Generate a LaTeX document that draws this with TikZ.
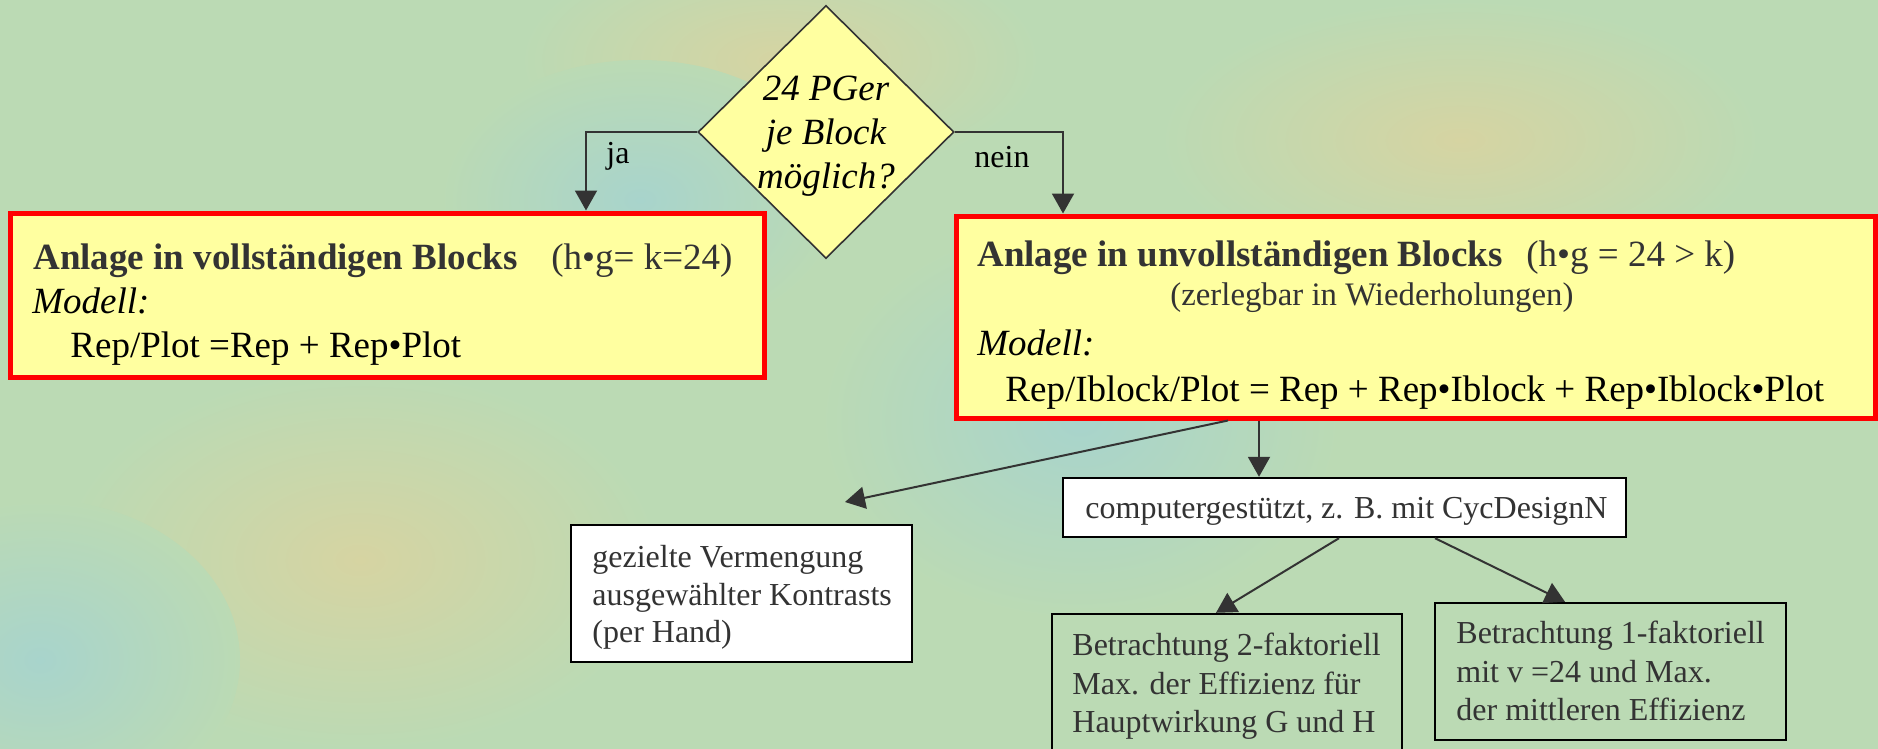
\documentclass[tikz,border=0pt]{standalone}
\usepackage{fontspec}
\setmainfont{Liberation Serif}
\usetikzlibrary{arrows.meta,shapes.geometric,calc}

\definecolor{bggreen}{RGB}{187,218,180}
\definecolor{bgtan}{RGB}{214,212,162}
\definecolor{bgblue}{RGB}{168,212,204}
\definecolor{boxyellow}{RGB}{255,255,160}
\definecolor{framered}{RGB}{255,0,0}
\definecolor{inkgray}{RGB}{51,51,51}

\begin{document}
\begin{tikzpicture}[x=0.5pt,y=-0.5pt,
  bigtxt/.style={font=\fontsize{18.5}{22}\selectfont, inner sep=0pt, text=black},
  smalltxt/.style={font=\fontsize{16}{19}\selectfont, inner sep=0pt, text=inkgray},
  yellowbox/.style={draw=framered, line width=2.5pt, fill=boxyellow, rectangle, inner sep=0pt},
  whitebox/.style={draw=black, line width=1.2pt, fill=white, rectangle, inner sep=0pt},
  plainbox/.style={draw=black, line width=1.2pt, rectangle, inner sep=0pt},
  decision/.style={draw=inkgray, line width=0.8pt, fill=boxyellow, diamond, inner sep=0pt},
  conn/.style={draw=inkgray, line width=1pt, -{Triangle[length=10pt,width=11pt]}}]

\useasboundingbox (0,0) rectangle (1878,749);
\clip (0,0) rectangle (1878,749);

% textured backdrop
\fill[bggreen] (0,0) rectangle (1878,749);
\shade[inner color=bgtan, outer color=bggreen] (360,560) ellipse [x radius=300, y radius=190];
\shade[inner color=bgtan, outer color=bggreen] (780,60) ellipse [x radius=260, y radius=120];
\shade[inner color=bgtan, outer color=bggreen] (1460,140) ellipse [x radius=300, y radius=140];
\shade[inner color=bgblue, outer color=bggreen] (1080,420) ellipse [x radius=260, y radius=200];
\shade[inner color=bgblue, outer color=bggreen] (40,660) ellipse [x radius=200, y radius=160];
\shade[inner color=bgblue, outer color=bggreen] (640,200) ellipse [x radius=200, y radius=140];

% decision
\node[decision, minimum width=128pt, minimum height=126.5pt] (dia) at (826,132) {};
\node[bigtxt, align=center, font=\fontsize{18.5}{22}\itshape] (qtext) at (826,136)
  {24 PGer\\je Block\\möglich?};

% main boxes
\node[yellowbox, minimum width=377pt, minimum height=82pt] (lb) at (387,295) {};
\node[yellowbox, minimum width=459.5pt, minimum height=101pt] (rb) at (1415.5,317) {};

\node[bigtxt, anchor=base west, text=inkgray, font=\fontsize{18.5}{22}\selectfont\bfseries] (lbt) at (33,269) {Anlage in vollständigen Blocks};
\node[bigtxt, anchor=base west, text=inkgray] (lbc) at (551,269) {(h•g= k=24)};
\node[bigtxt, anchor=base west, font=\fontsize{18.5}{22}\itshape] (lbm) at (32,313) {Modell:};
\node[bigtxt, anchor=base west] (lbf) at (70,357) {Rep/Plot =Rep + Rep•Plot};

\node[bigtxt, anchor=base west, text=inkgray, font=\fontsize{18.5}{22}\selectfont\bfseries] (rbt) at (977,266) {Anlage in unvollständigen Blocks};
\node[bigtxt, anchor=base west, text=inkgray] (rbc) at (1526,266) {(h•g = 24 > k)};
\node[bigtxt, anchor=base west, text=inkgray, font=\fontsize{16.4}{19}\selectfont] (rbz) at (1170,305) {(zerlegbar in Wiederholungen)};
\node[bigtxt, anchor=base west, font=\fontsize{18.5}{22}\itshape] (rbm) at (977,355) {Modell:};
\node[bigtxt, anchor=base west] (rbf) at (1005,401) {Rep/Iblock/Plot = Rep + Rep•Iblock + Rep•Iblock•Plot};

% lower boxes
\node[whitebox, minimum width=170.5pt, minimum height=68.5pt] (gez) at (741.5,593.5) {};
\node[whitebox, minimum width=281.5pt, minimum height=29.5pt] (cg) at (1344.5,507.5) {};
\node[plainbox, minimum width=175pt, minimum height=78pt] (bl) at (1227,692) {};
\node[plainbox, minimum width=175.5pt, minimum height=68.5pt] (br) at (1610.5,671.5) {};

\node[smalltxt, anchor=north west, align=left, font=\fontsize{16}{18.75}\selectfont] (gezt) at (592,545)
  {gezielte Vermengung\\ausgewählter Kontrasts\\(per Hand)};
\node[smalltxt, anchor=base west] (cgt) at (1085,518) {computergestützt, z. B. mit CycDesignN};
\node[smalltxt, anchor=north west, align=left, font=\fontsize{16}{19.25}\selectfont] (blt) at (1072,633)
  {Betrachtung 2-faktoriell\\Max. der Effizienz für\\Hauptwirkung G und H};
\node[smalltxt, anchor=north west, align=left, font=\fontsize{16}{19.25}\selectfont] (brt) at (1456,621)
  {Betrachtung 1-faktoriell\\mit v =24 und Max.\\der mittleren Effizienz};

% branch labels
\node[smalltxt, anchor=base west, text=black] (ja) at (606,163) {ja};
\node[smalltxt, anchor=base west, text=black] (nein) at (974,167) {nein};

% connector guide points
\coordinate (jaX) at (586,0);
\coordinate (neinX) at (1063,0);
\coordinate (gezFrom) at (1228,0);
\coordinate (gezTip) at (845,502);
\coordinate (cgX) at (1259,0);
\coordinate (blFrom) at (1339,0);
\coordinate (blTo) at (1216,0);
\coordinate (brFrom) at (1435,0);
\coordinate (brTo) at (1565,0);

% connectors
\draw[conn] (dia.west) -| (lb.north -| jaX);
\draw[conn] (dia.east) -| (rb.north -| neinX);
\draw[conn] (rb.south -| gezFrom) -- (gezTip);
\draw[conn] (rb.south -| cgX) -- (cg.north -| cgX);
\draw[conn] (cg.south -| blFrom) -- (bl.north -| blTo);
\draw[conn] (cg.south -| brFrom) -- (br.north -| brTo);
\end{tikzpicture}
\end{document}
